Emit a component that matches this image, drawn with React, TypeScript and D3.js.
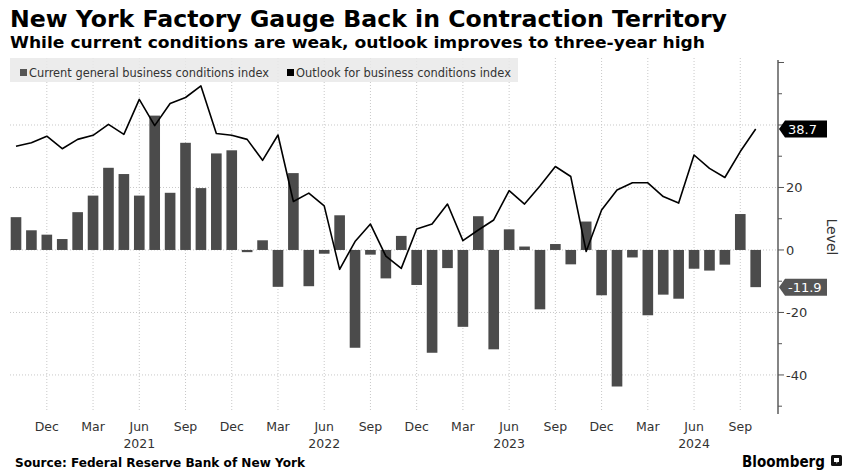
import React from "react";
import * as d3 from "d3";

const monthNames = ["Jan","Feb","Mar","Apr","May","Jun","Jul","Aug","Sep","Oct","Nov","Dec"];
// Oct 2020 .. Oct 2024
const startYear = 2020;
const startMonth = 9; // October (0-based)
const current = [
  10.5, 6.3, 4.9,
  3.5, 12.1, 17.4, 26.3, 24.3, 17.4, 43.0, 18.3, 34.3, 19.8, 30.9, 31.9,
  -0.7, 3.1, -11.8, 24.6, -11.6, -1.2, 11.1, -31.3, -1.5, -9.1, 4.5, -11.2,
  -32.9, -5.8, -24.6, 10.8, -31.8, 6.6, 1.1, -19.0, 1.9, -4.6, 9.1, -14.5,
  -43.7, -2.4, -20.9, -14.3, -15.6, -6.0, -6.6, -4.7, 11.5, -11.9,
];
const outlook = [
  33.2, 34.3, 36.4,
  32.4, 35.4, 36.7, 40.2, 37.0, 48.2, 39.8, 46.9, 48.8, 52.5, 37.3, 36.7,
  35.4, 28.7, 36.8, 15.5, 18.2, 14.1, -6.2, 2.7, 8.3, -2.0, -5.9, 6.7,
  8.3, 14.7, 3.0, 6.4, 9.6, 19.0, 14.7, 20.5, 26.7, 23.5, -0.5, 12.8,
  19.2, 21.5, 21.5, 17.1, 15.0, 30.4, 26.1, 23.2, 31.5, 38.7,
];
const tickMonths = ["Dec", "Mar", "Jun", "Sep"];
const yearLabelMonth = "Jun";
const yLabelTicks = [-40, -20, 0, 20];
const yGridTicks = [-40, -20, 0, 20, 40];
const yMinorTicks = [-50, -40, -30, -20, -10, 0, 10, 20, 30, 40, 50, 60];
const legendLabels = ["Current general business conditions index", "Outlook for business conditions index"];
const title = "New York Factory Gauge Back in Contraction Territory";
const subtitle = "While current conditions are weak, outlook improves to three-year high";
const source = "Source: Federal Reserve Bank of New York";

const months = current.map((_, i) => {
  const m = (startMonth + i) % 12;
  const y = startYear + Math.floor((startMonth + i) / 12);
  return { key: `${y}-${m}`, name: monthNames[m], year: y };
});

const W = 846, H = 470;
const axisX = 778;
const plotTop = 60, plotBottom = 414;
const FONT = "'DejaVu Sans', Verdana, sans-serif";
const BAR = "#4b4b4b";

export default function App() {
  const x = d3.scaleBand<string>()
    .domain(months.map((m) => m.key))
    .range([8.3, 763.4])
    .paddingInner(0.31)
    .paddingOuter(0.155);
  const cx = (i: number) => (x(months[i].key) as number) + x.bandwidth() / 2;
  const y = d3.scaleLinear().domain([-52.5, 60.8]).range([plotBottom, plotTop]);

  const line = d3.line<number>()
    .x((_, i) => cx(i))
    .y((d) => y(d));

  const tickIdx = months.map((m, i) => ({ m, i })).filter((o) => tickMonths.includes(o.m.name));
  const yearIdx = months.map((m, i) => ({ m, i })).filter((o) => o.m.name === yearLabelMonth);

  const lastOut = outlook[outlook.length - 1];
  const lastCur = current[current.length - 1];

  const tag = (v: number, fill: string) => {
    const yy = y(v);
    const x0 = axisX + 1, x1 = axisX + 7, x2 = axisX + 49, h = 8.5;
    return (
      <g key={`tag-${v}`}>
        <path d={`M${x0},${yy} L${x1},${yy - h} L${x2},${yy - h} L${x2},${yy + h} L${x1},${yy + h} Z`} fill={fill} />
        <text x={x1 + 3} y={yy} dy="0.36em" fill="#fff" fontSize={13} fontFamily={FONT}>{v.toFixed(1)}</text>
      </g>
    );
  };

  return (
    <svg width={W} height={H} style={{ position: "absolute", left: 0, top: 0, background: "#fff" }}>
      <rect width={W} height={H} fill="#fff" />
      {/* gridlines */}
      {tickIdx.map(({ m, i }) => (
        <line key={`vg-${m.key}`} x1={cx(i)} x2={cx(i)} y1={plotTop - 2} y2={plotBottom - 2}
          stroke="#c8c8c8" strokeWidth={1} strokeDasharray="1,2" />
      ))}
      {yGridTicks.map((t) => (
        <line key={`hg-${t}`} x1={10} x2={axisX} y1={y(t)} y2={y(t)} stroke="#c8c8c8" strokeWidth={1} strokeDasharray="1,2" />
      ))}
      {/* bars */}
      {current.map((v, i) => (
        <rect key={`b-${i}`} x={x(months[i].key)} width={x.bandwidth()}
          y={Math.min(y(v), y(0))} height={Math.max(Math.abs(y(v) - y(0)), 1.5)} fill={BAR} />
      ))}
      {/* line */}
      <path d={line(outlook) || ""} fill="none" stroke="#000" strokeWidth={1.6} strokeLinejoin="round" />
      {/* legend */}
      <rect x={10} y={58} width={508} height={24} fill="#e9e9e9" opacity={0.85} />
      <rect x={20} y={69} width={7} height={7} fill="#555" />
      <text x={29} y={76.5} fontSize={11.5} fontFamily={FONT} fill="#333" textLength={240} lengthAdjust="spacingAndGlyphs">{legendLabels[0]}</text>
      <rect x={287} y={69} width={7} height={7} fill="#000" />
      <text x={296} y={76.5} fontSize={11.5} fontFamily={FONT} fill="#333" textLength={215} lengthAdjust="spacingAndGlyphs">{legendLabels[1]}</text>
      {/* right axis */}
      <line x1={axisX} x2={axisX} y1={plotTop} y2={plotBottom} stroke="#333" strokeWidth={1.2} />
      {yMinorTicks.map((t) => (
        <line key={`yt-${t}`} x1={axisX} x2={axisX + (t % 20 === 0 ? 6 : 4)} y1={y(t)} y2={y(t)} stroke="#555" strokeWidth={1} />
      ))}
      {yLabelTicks.map((t) => (
        <text key={`yl-${t}`} x={axisX + 8} y={y(t)} dy="0.36em" fontSize={13} fontFamily={FONT} fill="#333">{t}</text>
      ))}
      <text transform={`translate(832,237) rotate(90)`} textAnchor="middle" dy="0.36em" fontSize={14} fontFamily={FONT} fill="#333">Level</text>
      {tag(lastOut, "#000")}
      {tag(lastCur, "#555")}
      {/* x axis labels */}
      {tickIdx.map(({ m, i }) => (
        <text key={`xl-${m.key}`} x={cx(i)} y={431} textAnchor="middle" fontSize={12.5} fontFamily={FONT} fill="#333">{m.name}</text>
      ))}
      {yearIdx.map(({ m, i }) => (
        <text key={`yr-${m.key}`} x={cx(i)} y={448} textAnchor="middle" fontSize={12.5} fontFamily={FONT} fill="#333">{m.year}</text>
      ))}
      {/* titles */}
      <text x={10} y={27} fontSize={23} fontWeight="bold" fontFamily={FONT} fill="#000" textLength={717} lengthAdjust="spacingAndGlyphs">{title}</text>
      <text x={10} y={48} fontSize={16} fontWeight="bold" fontFamily={FONT} fill="#000" textLength={695} lengthAdjust="spacingAndGlyphs">{subtitle}</text>
      {/* footer */}
      <text x={15} y={467} fontSize={12} fontWeight="bold" fontFamily={FONT} fill="#000" textLength={290} lengthAdjust="spacingAndGlyphs">{source}</text>
      <text x={742} y={467} fontSize={15.5} fontWeight="bold" fontFamily={FONT} fill="#000" textLength={83} lengthAdjust="spacingAndGlyphs">Bloomberg</text>
      <rect x={831} y={455} width={11} height={11} rx={1.5} fill="#111" />
      <path d="M834,458 h5 v4 h-1.5 l-1,2 v-2 h-2.5 z" fill="#fff" />
    </svg>
  );
}
